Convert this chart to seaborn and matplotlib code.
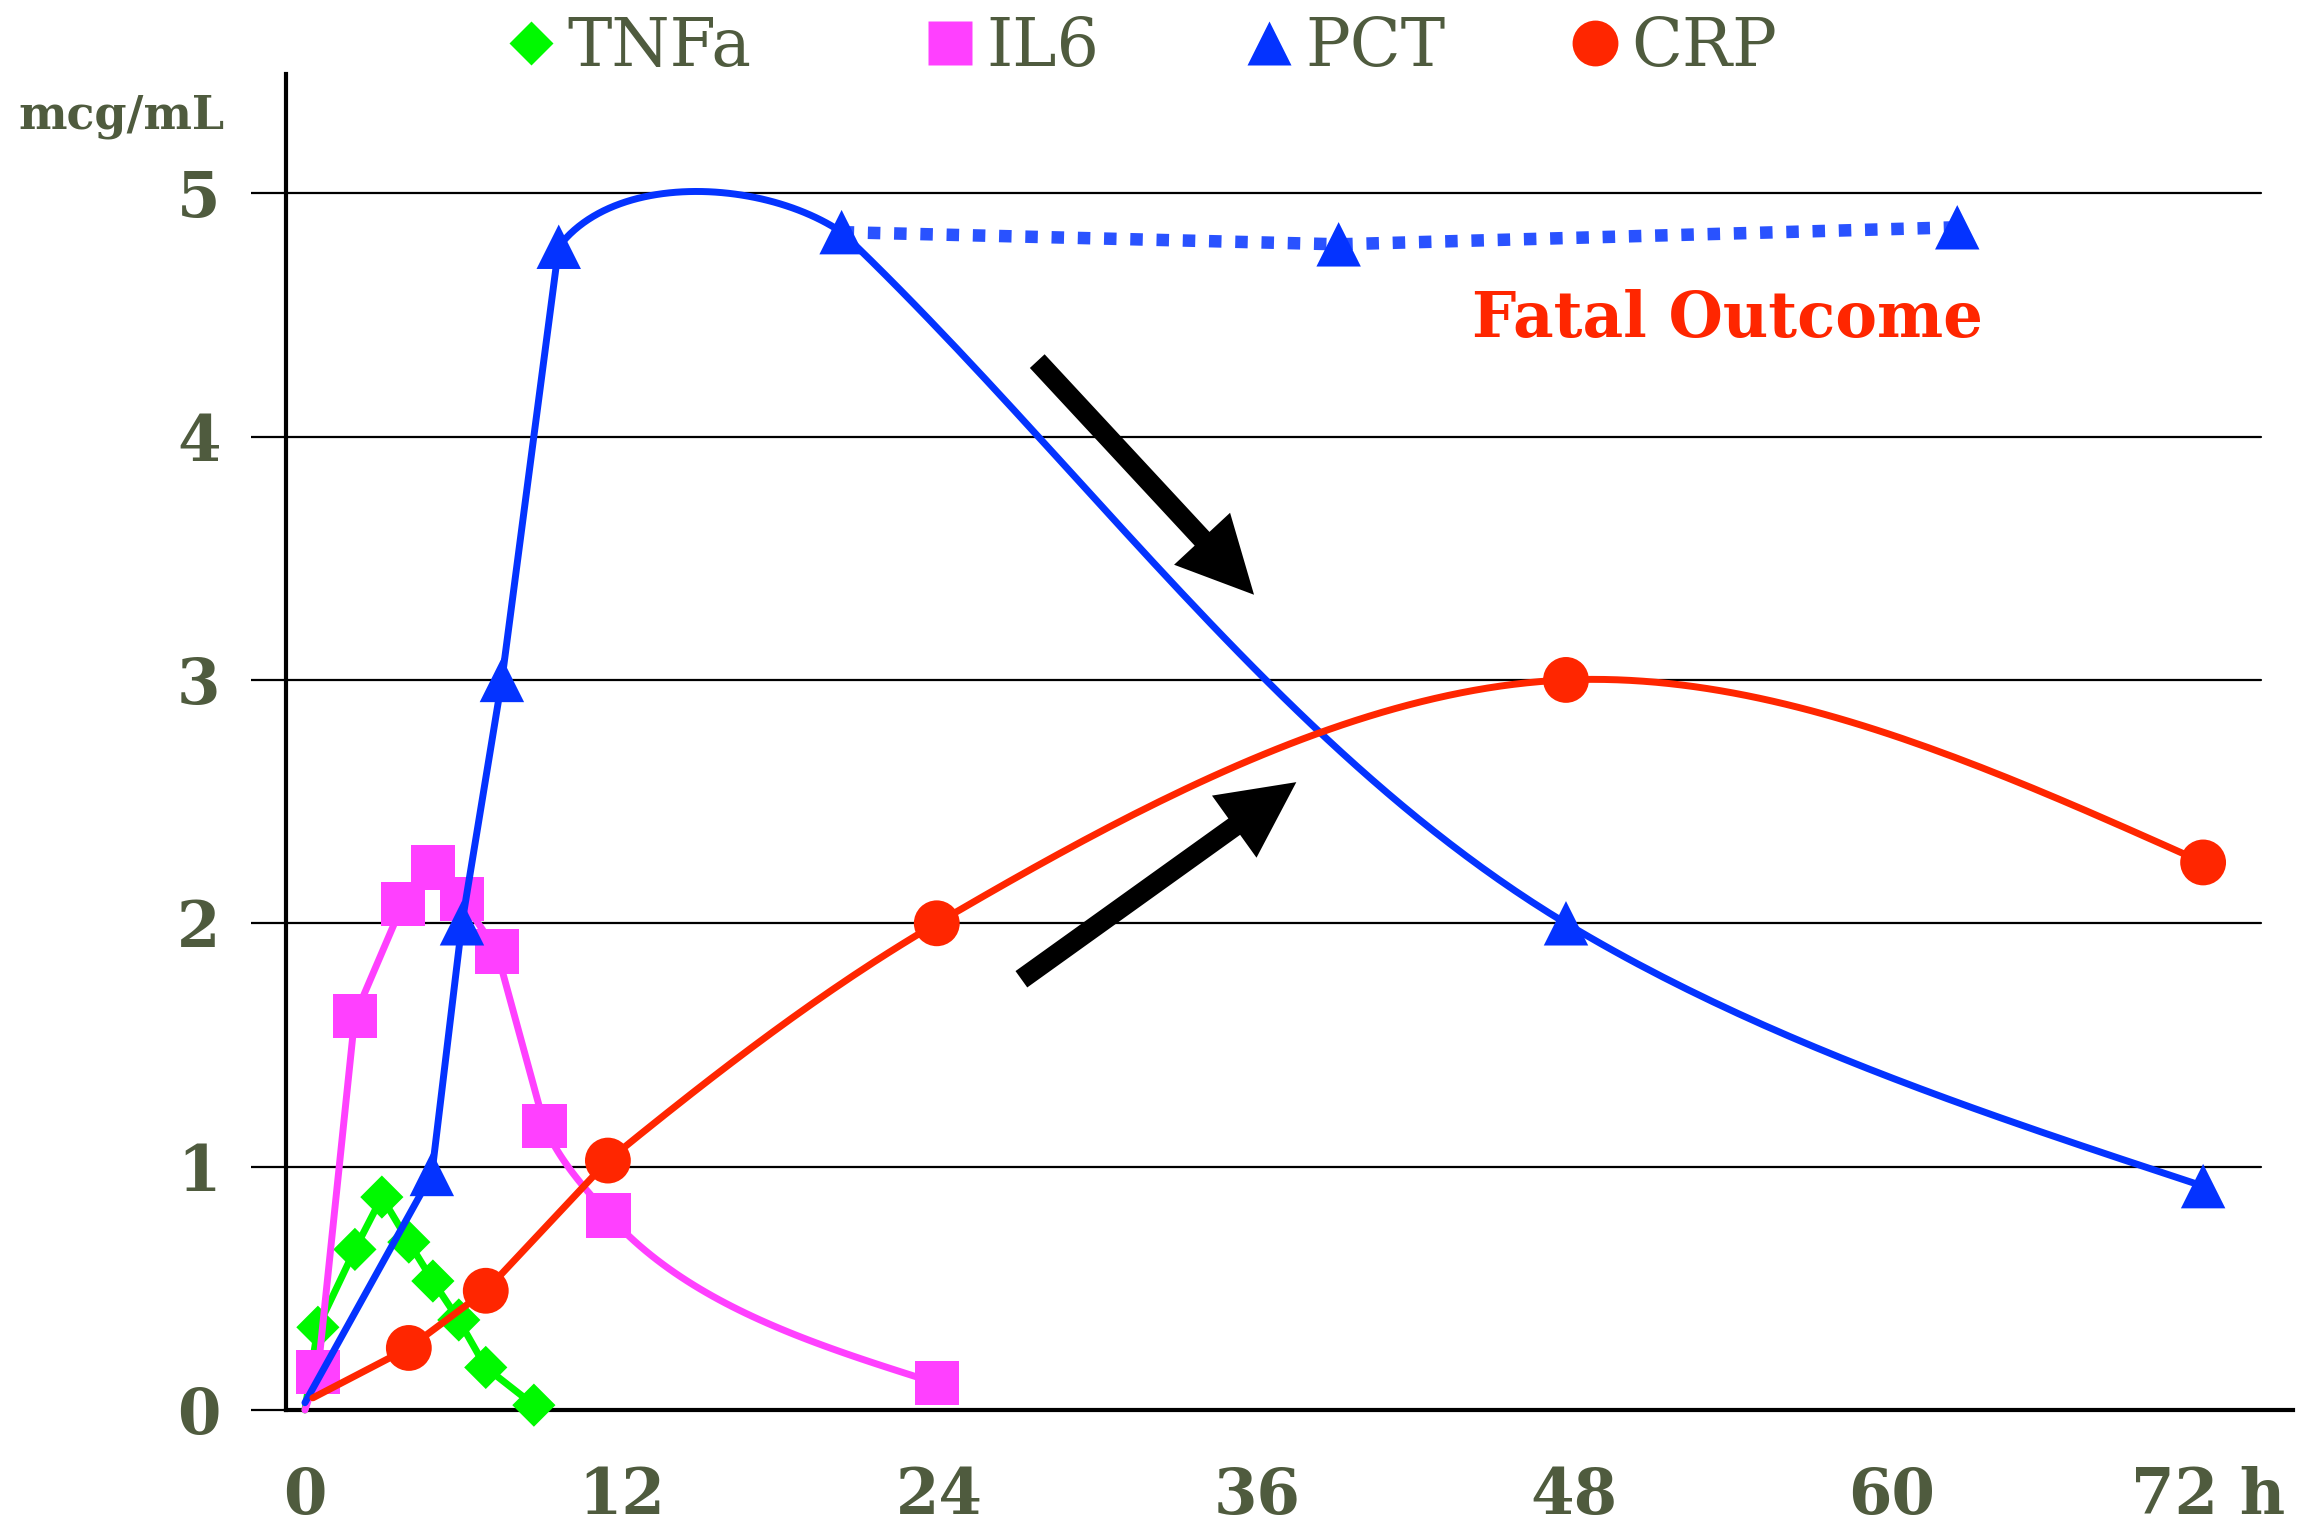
import numpy as np
import matplotlib
matplotlib.use("Agg")
import matplotlib.pyplot as plt
from matplotlib.lines import Line2D
import seaborn as sns

# --- data (hours, mcg/mL) ---
# first entry of each series is the unmarked start of the line
tnf_hours = [0.0, 0.49, 1.89, 2.91, 3.93, 4.84, 5.82, 6.84, 8.66]
tnf_vals = [0.0, 0.34, 0.66, 0.875, 0.69, 0.53, 0.37, 0.175, 0.02]

il6_hours = [0.0, 0.49, 1.89, 3.7, 4.84, 5.94, 7.26, 9.07, 11.49, 23.9]
il6_vals = [0.0, 0.157, 1.62, 2.08, 2.23, 2.10, 1.885, 1.166, 0.80, 0.11]

pct_hours = [0.0, 4.8, 5.94, 7.45, 9.6, 20.3, 47.7, 71.8]
pct_vals = [0.03, 0.97, 2.0, 3.0, 4.78, 4.84, 2.0, 0.92]

# PCT in the fatal cases (dotted)
pct_fatal_hours = [20.3, 39.1, 62.5]
pct_fatal_vals = [4.84, 4.79, 4.86]

crp_hours = [0.3, 3.93, 6.84, 11.46, 23.9, 47.7, 71.8]
crp_vals = [0.05, 0.255, 0.49, 1.025, 2.0, 3.0, 2.25]

x_ticks = [0, 12, 24, 36, 48, 60, 72]
x_tick_labels = ["0", "12", "24", "36", "48", "60", "72 h"]
y_ticks = [0, 1, 2, 3, 4, 5]
y_tick_labels = ["0", "1", "2", "3", "4", "5"]

GREEN = "#00F900"
PINK = "#FF40FF"
BLUE = "#0433FF"
BLUE_DOT = "#2952FF"
RED = "#FF2600"
OLIVE = "#4F5B3E"

sns.set_style("white")
plt.rcParams["font.family"] = ["DejaVu Serif"]

fig = plt.figure(figsize=(23.15, 15.25), dpi=100)
ax = fig.add_axes([0.1235, 0.0754, 0.8670, 0.8761])
ax.set_xlim(-0.72, 75.2)
ax.set_ylim(0, 5.49)


def unit(v):
    return v / np.linalg.norm(v)


def smooth(xs, ys, run=None, corners=(), n=50):
    # straight segments, except the index range `run` which is drawn as a
    # smoothed bezier curve (screen space) like the original chart
    P = ax.transData.transform(np.column_stack([xs, ys]).astype(float))
    if run is None:
        return np.asarray(xs), np.asarray(ys)
    i0, i1 = run
    last = len(P) - 1
    t_in, t_out = {}, {}
    for i in range(i0, i1 + 1):
        if i == i0:
            t_out[i] = unit(P[i + 1] - P[i - 1]) if i > 0 else unit(P[i + 1] - P[i])
        elif i == i1:
            if i < last:
                t_in[i] = unit(P[i + 1] - P[i - 1])
        else:
            d0 = np.linalg.norm(P[i] - P[i - 1])
            d1 = np.linalg.norm(P[i + 1] - P[i])
            m = (P[i] - P[i - 1]) / d0 - (P[i + 1] - P[i - 1]) / (d0 + d1) + (P[i + 1] - P[i]) / d1
            t_in[i] = t_out[i] = m
            if i in corners:
                t_in[i] = unit(P[i + 1] - P[i - 1])
                t_out[i] = unit(P[i + 1] - P[i])
    t = np.linspace(0, 1, n)[1:, None]
    out = [P[: i0 + 1]]
    for j in range(i0, i1):
        p0, p1 = P[j], P[j + 1]
        d = np.linalg.norm(p1 - p0)
        c1 = p0 + t_out[j] * d / 3
        if j + 1 in t_in:
            c2 = p1 - t_in[j + 1] * d / 3
        else:
            c2 = (c1 + p1) / 2
        out.append((1 - t) ** 3 * p0 + 3 * (1 - t) ** 2 * t * c1
                   + 3 * (1 - t) * t ** 2 * c2 + t ** 3 * p1)
    out.append(P[i1 + 1:])
    res = ax.transData.inverted().transform(np.vstack(out))
    return res[:, 0], res[:, 1]


# hours, values, colour, marker, marker size, zorder, smoothed index range, corner points
series = [
    (tnf_hours, tnf_vals, GREEN, "D", 22, 3, None, ()),
    (il6_hours, il6_vals, PINK, "s", 32, 4, (7, 9), ()),
    (pct_hours, pct_vals, BLUE, "^", 32, 5, (4, 7), (5,)),
    (crp_hours, crp_vals, RED, "o", 33, 6, (3, 6), ()),
]

for hrs, vals, col, mk, ms, z, run, corners in series:
    sx, sy = smooth(hrs, vals, run, corners)
    sns.lineplot(x=sx, y=sy, sort=False, estimator=None, color=col, lw=5,
                 ax=ax, zorder=z, clip_on=False)
    sns.scatterplot(x=hrs[1:], y=vals[1:], marker=mk, s=ms ** 2, color=col,
                    edgecolor="none", linewidth=0, ax=ax, zorder=z + 0.5, clip_on=False)

# fatal outcome PCT, dotted
sns.lineplot(x=pct_fatal_hours, y=pct_fatal_vals, sort=False, estimator=None,
             color=BLUE_DOT, lw=9, ax=ax, zorder=5)
ax.lines[-1].set_linestyle((0, (1.0, 1.1)))
ax.lines[-1].set_dash_capstyle("butt")
sns.scatterplot(x=pct_fatal_hours[1:], y=pct_fatal_vals[1:], marker="^", s=32 ** 2,
                color=BLUE, edgecolor="none", linewidth=0, ax=ax, zorder=5.5, clip_on=False)

ax.text(53.8, 4.48, "Fatal Outcome", color=RED, fontsize=45, fontweight="bold",
        ha="center", va="center")

# the two black arrows
for tail, tip in [((27.7, 4.31), (35.9, 3.35)), ((27.1, 1.77), (37.5, 2.58))]:
    ax.annotate("", xy=tip, xytext=tail,
                arrowprops=dict(arrowstyle="simple,head_length=5.5,head_width=5.5,tail_width=1.45",
                                fc="black", ec="none", shrinkA=0, shrinkB=0, mutation_scale=10),
                zorder=8)

# gridlines and axes
for v in y_ticks[1:]:
    ax.axhline(v, xmin=0, xmax=0.984, color="black", lw=1.6, zorder=1)
for side in ["top", "right"]:
    ax.spines[side].set_visible(False)
for side in ["left", "bottom"]:
    ax.spines[side].set_linewidth(3)
    ax.spines[side].set_color("black")
    ax.spines[side].set_zorder(2)

ax.set_xticks(x_ticks)
ax.set_xticklabels(x_tick_labels)
ax.set_yticks(y_ticks)
ax.set_yticklabels(y_tick_labels)
ax.tick_params(axis="y", length=25, width=1.6, color="black", pad=22, left=True)
ax.tick_params(axis="x", length=0, pad=40)
for lab in ax.get_xticklabels() + ax.get_yticklabels():
    lab.set_fontsize(45)
    lab.set_fontweight("bold")
    lab.set_color(OLIVE)
ax.set_xlabel("")
ax.set_ylabel("")
ax.grid(False)

fig.text(0.0523, 0.916, "mcg/mL", fontsize=33, fontweight="bold", color=OLIVE,
         ha="center", va="baseline")

# legend entries along the top, spaced like the original
legend_names = ["TNFa", "IL6", "PCT", "CRP"]
legend_x = [0.2207, 0.4017, 0.5395, 0.6803]
for (_, _, col, mk, ms, _, _, _), name, lx in zip(series, legend_names, legend_x):
    h = Line2D([], [], ls="none", marker=mk, ms=ms, color=col, mec="none")
    leg = fig.legend([h], [name], loc="center left", bbox_to_anchor=(lx, 0.969),
                     frameon=False, fontsize=48, labelcolor=OLIVE, handlelength=0.6,
                     handletextpad=0.25, borderpad=0, borderaxespad=0)

fig.savefig("out.png", dpi=100, facecolor="white")
